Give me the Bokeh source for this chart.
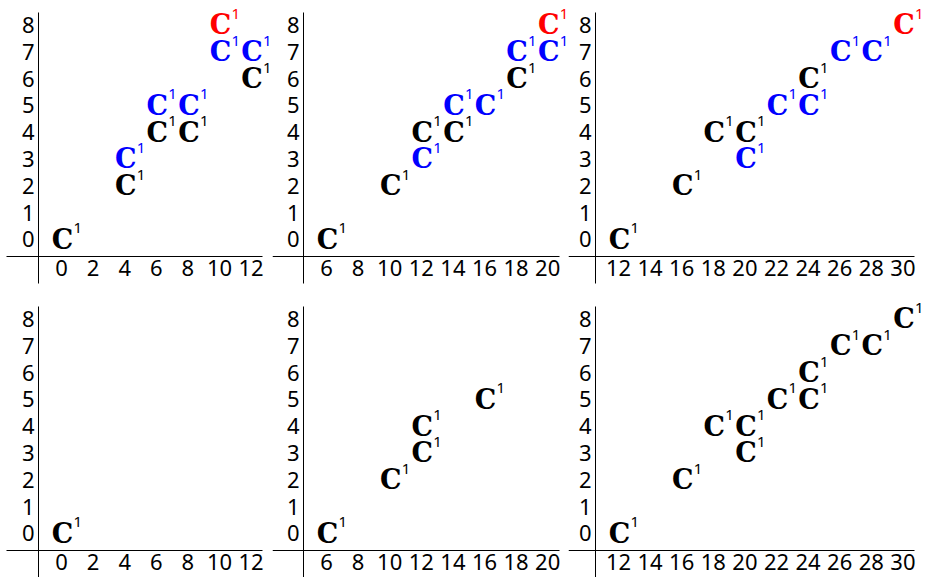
from bokeh.plotting import figure
from bokeh.layouts import column, row
from bokeh.models import FixedTicker, Range1d, ColumnDataSource
from bokeh.core.properties import value
from bokeh.embed import file_html
from bokeh.resources import INLINE

# ---- data -------------------------------------------------------------
# top row: three panels, each with black / blue / red points
p1_black_x = [0, 4, 6, 8, 12]
p1_black_y = [0, 2, 4, 4, 6]
p1_blue_x = [4, 6, 8, 10, 12]
p1_blue_y = [3, 5, 5, 7, 7]
p1_red_x = [10]
p1_red_y = [8]

p2_black_x = [6, 10, 12, 14, 18]
p2_black_y = [0, 2, 4, 4, 6]
p2_blue_x = [12, 14, 16, 18, 20]
p2_blue_y = [3, 5, 5, 7, 7]
p2_red_x = [20]
p2_red_y = [8]

p3_black_x = [12, 16, 18, 20, 24]
p3_black_y = [0, 2, 4, 4, 6]
p3_blue_x = [20, 22, 24, 26, 28]
p3_blue_y = [3, 5, 5, 7, 7]
p3_red_x = [30]
p3_red_y = [8]

# bottom row: black points only
p4_x = [0]
p4_y = [0]
p5_x = [6, 10, 12, 12, 16]
p5_y = [0, 2, 3, 4, 5]
p6_x = [12, 16, 18, 20, 20, 22, 24, 24, 26, 28, 30]
p6_y = [0, 2, 4, 4, 3, 5, 5, 6, 7, 7, 8]

# tick values
x_ticks_1 = [0, 2, 4, 6, 8, 10, 12]
x_ticks_2 = [6, 8, 10, 12, 14, 16, 18, 20]
x_ticks_3 = [12, 14, 16, 18, 20, 22, 24, 26, 28, 30]
y_ticks = [0, 1, 2, 3, 4, 5, 6, 7, 8]

# ---- layout constants -------------------------------------------------
PX_X = 15.8          # pixels per x unit
PX_Y = 26.79         # pixels per y unit
Y0_PX = 238.8        # pixel row of y = 0, from the top of a panel
COL_W = [272, 296, 357]
COL_X0 = [61, 54, 50]  # pixel column of the first x tick inside each panel
ROW_H = [294, 283]

BLACK = "#000000"
BLUE = "#0000ff"
RED = "#ff0000"

TICK_FONT = "Noto Sans"
MARK_FONT = "DejaVu Serif"


def make_panel(col, rowi, ticks, groups):
    w = COL_W[col]
    h = ROW_H[rowi]
    xmin, xmax = ticks[0], ticks[-1]
    x_lo = xmin - COL_X0[col] / PX_X
    x_hi = xmin + (w - COL_X0[col]) / PX_X
    y_hi = Y0_PX / PX_Y
    y_lo = -(h - Y0_PX) / PX_Y

    p = figure(width=w, height=h, output_backend="svg", toolbar_location=None,
               x_range=Range1d(x_lo, x_hi), y_range=Range1d(y_lo, y_hi),
               min_border=0, outline_line_color=None)
    p.grid.visible = False

    # axes drawn inside the frame, crossing like a hand-drawn chart
    xa = p.xaxis[0]
    xa.fixed_location = -(256 - Y0_PX) / PX_Y
    xa.bounds = (xmin - 3.5, xmax + 0.75)
    xa.ticker = FixedTicker(ticks=ticks)
    ya = p.yaxis[0]
    ya.fixed_location = xmin - 1.45
    ya.bounds = (-(283 - Y0_PX) / PX_Y, (Y0_PX - 12) / PX_Y)
    ya.ticker = FixedTicker(ticks=y_ticks)
    for ax in (xa, ya):
        ax.major_tick_line_color = None
        ax.minor_tick_line_color = None
        ax.major_tick_in = 0
        ax.major_tick_out = 0
        ax.axis_line_color = BLACK
        ax.axis_line_width = 1
        ax.major_label_text_font = TICK_FONT
        ax.major_label_text_font_size = "22px"
        ax.major_label_text_color = BLACK
    xa.major_label_standoff = 3
    ya.major_label_standoff = 4

    for xs, ys, color in groups:
        src = ColumnDataSource(dict(x=xs, y=ys,
                                    c=["C"] * len(xs), s=["1"] * len(xs)))
        p.text(x="x", y="y", text="c", source=src,
               text_font=value(MARK_FONT), text_font_style="bold",
               text_font_size="27px", text_color=color,
               text_align="center", text_baseline="alphabetic",
               x_offset=1, y_offset=0)
        p.text(x="x", y="y", text="s", source=src,
               text_font=value(TICK_FONT), text_font_size="15px",
               text_color=color, text_align="left",
               text_baseline="alphabetic", x_offset=12, y_offset=-11)
    return p


top = row(
    make_panel(0, 0, x_ticks_1, [(p1_black_x, p1_black_y, BLACK),
                                  (p1_blue_x, p1_blue_y, BLUE),
                                  (p1_red_x, p1_red_y, RED)]),
    make_panel(1, 0, x_ticks_2, [(p2_black_x, p2_black_y, BLACK),
                                  (p2_blue_x, p2_blue_y, BLUE),
                                  (p2_red_x, p2_red_y, RED)]),
    make_panel(2, 0, x_ticks_3, [(p3_black_x, p3_black_y, BLACK),
                                  (p3_blue_x, p3_blue_y, BLUE),
                                  (p3_red_x, p3_red_y, RED)]),
)
bottom = row(
    make_panel(0, 1, x_ticks_1, [(p4_x, p4_y, BLACK)]),
    make_panel(1, 1, x_ticks_2, [(p5_x, p5_y, BLACK)]),
    make_panel(2, 1, x_ticks_3, [(p6_x, p6_y, BLACK)]),
)
layout = column(top, bottom)

open("out.html", "w").write(file_html(layout, INLINE))
